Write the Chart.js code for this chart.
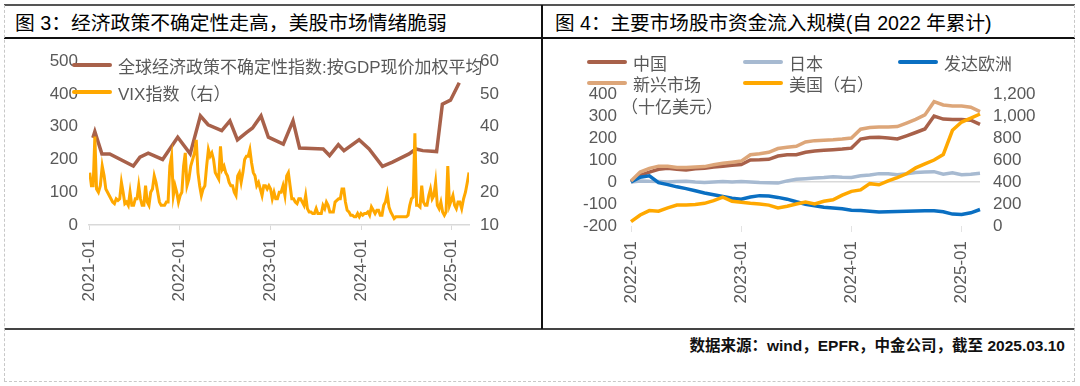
<!DOCTYPE html>
<html>
<head>
<meta charset="utf-8">
<script src="https://cdn.jsdelivr.net/npm/chart.js@4.4.1/dist/chart.umd.min.js"></script>
<style>
  body{margin:0;background:#fff;width:1080px;height:386px;position:relative;overflow:hidden;
    font-family:"Liberation Sans","Noto Sans CJK SC",sans-serif;}
  .abs{position:absolute}
  .title{position:absolute;top:9px;font-size:19.8px;color:#000;white-space:nowrap;line-height:28px}
  .lg{position:absolute;display:flex;align-items:center;font-size:17px;color:#595959;white-space:nowrap;height:22px}
  .lg i{display:inline-block;width:40px;height:4px;border-radius:2px;margin-right:6px}
  canvas{position:absolute}
</style>
</head>
<body>
<!-- frame -->
<div class="abs" style="left:4px;top:4px;width:1071px;height:2px;background:#555"></div>
<div class="abs" style="left:4px;top:37px;width:1071px;height:1.5px;background:#111"></div>
<div class="abs" style="left:4px;top:328px;width:1071px;height:2px;background:#444"></div>
<div class="abs" style="left:541px;top:5px;width:1.5px;height:324px;background:#111"></div>
<div class="abs" style="left:4px;top:5px;height:376px;border-left:1px dashed #c8c8c8"></div>
<div class="abs" style="left:1074px;top:5px;height:376px;border-left:1px dashed #c8c8c8"></div>
<div class="abs" style="left:4px;top:381px;width:1071px;border-top:1px dashed #c8c8c8"></div>

<div class="title" style="left:15px">图 3：经济政策不确定性走高，美股市场情绪脆弱</div>
<div class="title" style="left:555px;font-size:19.6px">图 4：主要市场股市资金流入规模(自 2022 年累计)</div>
<div class="abs" style="right:15px;top:333px;font-size:15.5px;font-weight:bold;color:#111;white-space:nowrap">数据来源：wind，EPFR，中金公司，截至 2025.03.10</div>

<canvas id="c1" width="535" height="288" style="left:5px;top:40px"></canvas>
<canvas id="c2" width="530" height="288" style="left:543px;top:40px"></canvas>
<div id="leg1"></div>
<div id="leg2"></div>
<div class="lg" style="left:621px;top:94px">（十亿美元）</div>

<script>
// ---- left chart data ----
const epuLabel = '全球经济政策不确定性指数:按GDP现价加权平均';
const epuDates = ['2021-01-17','2021-01-25','2021-02-21','2021-03-24','2021-06-27','2021-07-24','2021-08-27','2021-10-24','2021-12-24',
  '2022-02-12','2022-03-24','2022-04-24','2022-06-18','2022-07-21','2022-08-21','2022-09-27','2022-10-21','2022-11-24','2022-12-24',
  '2023-02-21','2023-04-01','2023-04-27','2023-08-01','2023-08-27','2023-10-01','2023-10-24','2023-12-24',
  '2024-02-03','2024-03-27','2024-05-06','2024-07-12','2024-08-09','2024-09-06','2024-11-01','2024-11-24','2024-12-27','2025-02-01'];
const epuValues = [266,285,217,217,180,207,219,200,268,
  217,333,306,288,318,260,283,296,333,268,
  247,318,235,232,212,245,227,260,
  232,179,192,217,232,227,224,369,381,434];

const vixLabel = 'VIX指数（右）';
const vixStart = '2021-01-04'; // weekly
const vixValues = [
  // 2021
  26,22,22,37, 21,20,22,28, 25,21,20,19,18, 17,16.5,18,17.5, 18,23,20,16.5,17, 16,20,16,16,
  18,18,22,18, 16,16,22,17,16, 20,21,25,23, 20,17,16,16, 16,17,17,28,31, 19,22,20,17,
  // 2022
  19,20,28,32,22, 24,28,30,32, 36,26,22,19, 21,22,28,33, 31,32,30,26,25, 24,34,27,28,
  26,25,23,22, 22,20,19,25,26, 23,26,30,31, 31,33,29,26,25, 22,23,21,19, 22,22,21,22,
  // 2023
  21,18,20,18,18, 20,20,22,19, 25,26,22,18, 18,17,16.5,18, 18,17,16,19,15, 14,14,13.5,13.5,
  15,13.5,13.5,13.5,16, 15,17,16,14, 14,14,17,17.5, 18,18,21,21,17, 14.5,14,13,13, 12.5,12.5,13.5,12.5,
  // 2024
  13.5,13,13.5,13.5,14, 13,15.5,14.5,13.5, 14.5,14.5,13,13, 16,17,19.5,15.5,14, 13,12,12.5,12.5, 12.5,12.5,12.5,12.5,
  12.5,13,16,18,18.5, 38,16,16,15.5, 22,17,16,16,19, 21,18,19,23, 16,15,17,14, 13,14,28,16,17.5,
  // 2025
  19,16,15,17, 17,15,18,20, 23,26
];
const leftYears = [2021,2022,2023,2024,2025];

// ---- right chart data ----
const flowMonths = ['2022-01','2022-02','2022-03','2022-04','2022-05','2022-06','2022-07','2022-08','2022-09','2022-10','2022-11','2022-12',
  '2023-01','2023-02','2023-03','2023-04','2023-05','2023-06','2023-07','2023-08','2023-09','2023-10','2023-11','2023-12',
  '2024-01','2024-02','2024-03','2024-04','2024-05','2024-06','2024-07','2024-08','2024-09','2024-10','2024-11','2024-12',
  '2025-01','2025-02','2025-03'];
const chinaFlow  = [0,30,45,58,63,58,55,60,63,68,72,76,79,100,101,103,118,124,124,135,141,144,147,150,154,195,202,203,200,196,210,225,241,300,286,284,284,281,262];
const japanFlow  = [0,5,3,2,0,2,3,0,-2,0,2,0,2,0,-2,-3,-5,5,12,15,18,20,24,22,21,28,32,38,38,33,38,43,45,47,35,42,33,35,40];
const europeFlow = [0,22,28,-3,-12,-22,-30,-40,-50,-58,-66,-74,-78,-68,-62,-64,-70,-78,-90,-101,-108,-115,-118,-122,-128,-130,-133,-136,-135,-134,-133,-132,-131,-131,-135,-146,-148,-140,-125];
const emFlow     = [5,45,62,72,72,66,66,68,70,78,85,90,95,124,128,135,152,158,162,182,188,190,192,195,200,240,248,250,250,252,268,285,305,365,350,345,345,340,320];
const usFlow     = [39,100,140,135,165,190,192,195,206,230,262,225,215,206,200,190,165,180,200,218,200,225,238,280,315,328,385,375,410,440,475,528,565,600,650,870,945,980,1018];

const FONT = '"Liberation Sans","Noto Sans CJK SC",sans-serif';
const GREY = '#595959';
const C = { brown:'#A8614A', vix:'#FFA800', japan:'#A7BAD1', europe:'#0A6FC2', em:'#DDA679', us:'#FFA800' };

// months since 2021-01-01
function mo(d){
  const [y,m,dd] = d.split('-').map(Number);
  const dim = new Date(Date.UTC(y, m, 0)).getUTCDate();
  return (y-2021)*12 + (m-1) + (dd-1)/dim;
}
function weekDate(start, i){
  const t = new Date(Date.parse(start + 'T00:00:00Z') + i*7*864e5);
  return t.toISOString().slice(0,10);
}

Chart.defaults.font.family = FONT;
Chart.defaults.font.size = 17;
Chart.defaults.color = GREY;

function legend(el, items){
  document.getElementById(el).innerHTML = items.map(it=>
    `<div class="lg" style="left:${it.x}px;top:${it.y}px"><i style="background:${it.color}"></i>${it.label}</div>`).join('');
}

// ---- left chart ----
new Chart(document.getElementById('c1'), {
  type:'line',
  data:{ datasets:[
    { label:vixLabel, yAxisID:'y1', data: vixValues.map((v,i)=>({x:mo(weekDate(vixStart,i)), y:v})),
      borderColor:C.vix, borderWidth:3, pointRadius:0, tension:0 },
    { label:epuLabel, yAxisID:'y', data: epuDates.map((d,i)=>({x:mo(d), y:epuValues[i]})),
      borderColor:C.brown, borderWidth:3.5, pointRadius:0, tension:0 },
  ]},
  options:{
    responsive:false, animation:false, events:[],
    layout:{ padding:{ top:20, left:0, right:0, bottom:0 } },
    plugins:{ legend:{display:false}, tooltip:{enabled:false} },
    scales:{
      x:{ type:'linear', min:0, max:mo('2025-03-10'),
        afterBuildTicks: s => { s.ticks = leftYears.map(y=>({value:(y-2021)*12})); },
        ticks:{ minRotation:90, maxRotation:90, padding:9, callback: v => `${2021+Math.round(v/12)}-01` },
        grid:{ drawOnChartArea:false, tickLength:5, color:'#D9D9D9' },
        border:{ color:'#D9D9D9', width:1.5 },
        afterFit: s => { s.height = 103; } },
      y:{ position:'left', min:0, max:500, ticks:{ stepSize:100, padding:11, autoSkip:false },
        grid:{ display:false, drawTicks:false }, border:{ display:false }, afterFit: s => { s.width = 84; } },
      y1:{ position:'right', min:10, max:60, ticks:{ stepSize:10, padding:11, autoSkip:false },
        grid:{ display:false, drawTicks:false }, border:{ display:false }, afterFit: s => { s.width = 71; } },
    }
  }
});
legend('leg1', [
  { label:epuLabel, color:C.brown, x:72, y:54 },
  { label:vixLabel, color:C.vix, x:72, y:81 },
]);

// ---- right chart ----
const flowSeries = [
  { label:'中国', data:chinaFlow, color:C.brown, axis:'y', lx:587, ly:51 },
  { label:'日本', data:japanFlow, color:C.japan, axis:'y', lx:743, ly:51 },
  { label:'发达欧洲', data:europeFlow, color:C.europe, axis:'y', lx:898, ly:51 },
  { label:'新兴市场', data:emFlow, color:C.em, axis:'y', lx:587, ly:72 },
  { label:'美国（右）', data:usFlow, color:C.us, axis:'y1', lx:743, ly:72 },
];
new Chart(document.getElementById('c2'), {
  type:'line',
  data:{ labels:flowMonths, datasets: flowSeries.map((s,i)=>({
    label:s.label, data:s.data, yAxisID:s.axis, order:flowSeries.length-i,
    borderColor:s.color, borderWidth:3.5, pointRadius:0, tension:0 })) },
  options:{
    responsive:false, animation:false, events:[],
    layout:{ padding:{ top:54, left:0, right:0, bottom:0 } },
    plugins:{ legend:{display:false}, tooltip:{enabled:false} },
    scales:{
      x:{ ticks:{ autoSkip:false, minRotation:90, maxRotation:90, padding:9,
          callback(v){ const l = this.getLabelForValue(v); return l.endsWith('-01') ? l : null; } },
        grid:{ drawOnChartArea:false, tickLength:6, color:'#E3E3E3' },
        border:{ display:false },
        afterFit: s => { s.height = 102; } },
      y:{ position:'left', min:-200, max:400, ticks:{ stepSize:100, padding:14, autoSkip:false },
        grid:{ drawTicks:false, lineWidth:1.5, color: c => c.tick && c.tick.value === 0 ? '#D9D9D9' : 'rgba(0,0,0,0)' },
        border:{ display:false }, afterFit: s => { s.width = 88; } },
      y1:{ position:'right', min:0, max:1200, ticks:{ stepSize:200, padding:13, autoSkip:false },
        grid:{ display:false, drawTicks:false }, border:{ display:false }, afterFit: s => { s.width = 93; } },
    }
  }
});
legend('leg2', flowSeries.map(s=>({ label:s.label, color:s.color, x:s.lx, y:s.ly })));
</script>
</body>
</html>
